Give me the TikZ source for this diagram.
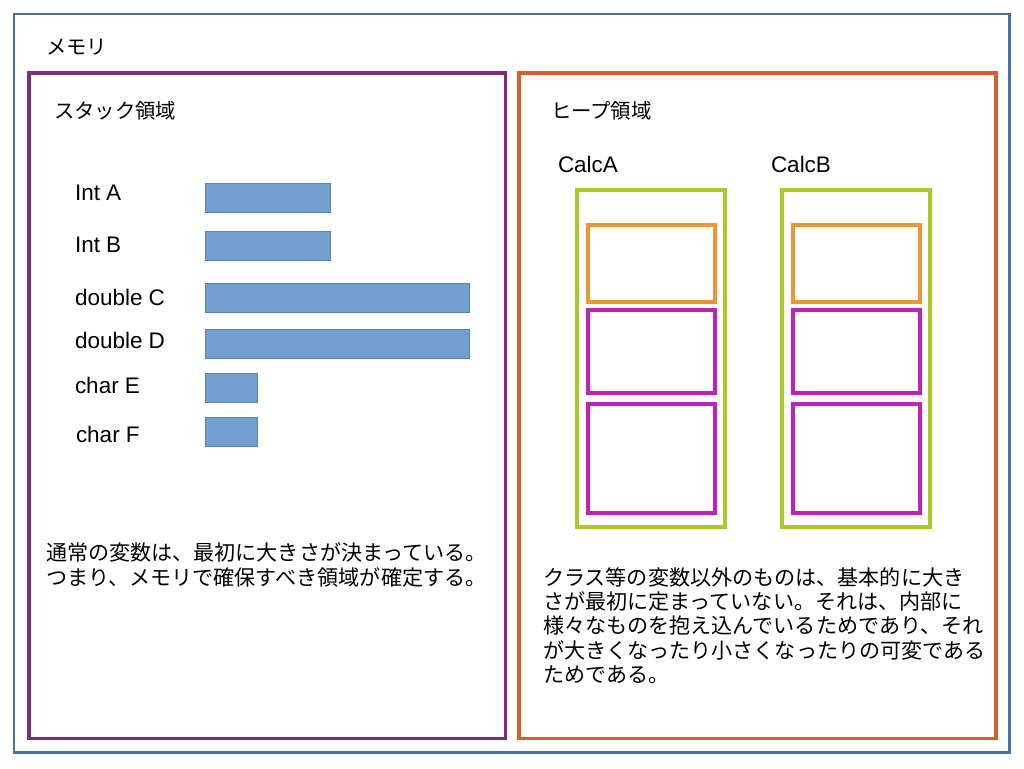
\documentclass[tikz,border=0pt]{standalone}
\usepackage{fontspec}
\setmainfont{Liberation Sans}
\newfontfamily\jpfont{Noto Sans CJK JP}
\definecolor{memblue}{RGB}{70,114,168}
\definecolor{stackpurple}{RGB}{124,46,122}
\definecolor{heaporange}{RGB}{214,96,44}
\definecolor{objgreen}{RGB}{172,200,42}
\definecolor{fieldorange}{RGB}{238,150,52}
\definecolor{fieldmagenta}{RGB}{192,32,190}
\definecolor{barfill}{RGB}{114,159,207}
\definecolor{bardraw}{RGB}{92,130,180}
\begin{document}
\begin{tikzpicture}[
        x=0.02cm, y=-0.02cm,
        every node/.style={anchor=north west, inner sep=0pt, outer sep=0pt},
        area/.style={draw, line width=1.8pt},
        bar/.style={draw=bardraw, fill=barfill, line width=0.4pt,
                    minimum height=0.58cm},
        obj/.style={draw=objgreen, line width=2pt,
                    minimum width=2.96cm, minimum height=6.74cm},
        field/.style={draw, line width=2pt, minimum width=2.54cm},
        label/.style={anchor=west, font=\fontsize{12.8}{14}\selectfont},
        jtitle/.style={anchor=west, font=\jpfont\fontsize{11.6}{14}\selectfont},
        jtext/.style={anchor=north west, align=left},
    ]
    \useasboundingbox (0,0) rectangle (1024,768);

    % --- memory and its two areas ----------------------------------------
    \node[area, draw=memblue, line width=1.6pt,
          minimum width=19.92cm, minimum height=14.78cm] (memory) at (14,14) {};
    \node[area, draw=stackpurple, minimum width=9.54cm,
          minimum height=13.32cm] (stack) at (29,73) {};
    \node[area, draw=heaporange, minimum width=9.54cm,
          minimum height=13.32cm] (heap) at (519,73) {};

    \node[jtitle] (memlabel)   at (46,47)  {メモリ};
    \node[jtitle] (stacklabel) at (54,111) {スタック領域};
    \node[jtitle] (heaplabel)  at (551,111) {ヒープ領域};

    % --- stack variables -------------------------------------------------
    \node[bar, minimum width=2.50cm] (intA)    at (205,183) {};
    \node[bar, minimum width=2.50cm] (intB)    at (205,231) {};
    \node[bar, minimum width=5.28cm] (doubleC) at (205,283) {};
    \node[bar, minimum width=5.28cm] (doubleD) at (205,329) {};
    \node[bar, minimum width=1.04cm] (charE)   at (205,373) {};
    \node[bar, minimum width=1.04cm] (charF)   at (205,417) {};

    \node[label] (intAlabel)    at (75,193) {Int A};
    \node[label] (intBlabel)    at (75,245) {Int B};
    \node[label] (doubleClabel) at (75,297) {double C};
    \node[label] (doubleDlabel) at (75,340) {double D};
    \node[label] (charElabel)   at (75,385) {char E};
    \node[label] (charFlabel)   at (76,434) {char F};

    \node[jtext, font=\jpfont\fontsize{12}{14.2}\selectfont] (stacknote) at (46,543)
        {通常の変数は、最初に大きさが決まっている。\\
         つまり、メモリで確保すべき領域が確定する。};

    % --- heap objects ----------------------------------------------------
    \foreach \name/\x/\lx in {CalcA/577/558, CalcB/782/771} {
        \node[label] (\name label) at (\lx,164) {\name};
        \node[obj] (\name) at (\x,190) {};
        \node[field, draw=fieldorange, minimum height=1.54cm]
            (\name f1) at (\x+11,225) {};
        \node[field, draw=fieldmagenta, minimum height=1.66cm]
            (\name f2) at (\x+11,310) {};
        \node[field, draw=fieldmagenta, minimum height=2.18cm]
            (\name f3) at (\x+11,404) {};
    }

    \node[jtext, font=\jpfont\fontsize{12}{13.7}\selectfont] (heapnote) at (543,568)
        {クラス等の変数以外のものは、基本的に大き\\
         さが最初に定まっていない。それは、内部に\\
         様々なものを抱え込んでいるためであり、それ\\
         が大きくなったり小さくなったりの可変である\\
         ためである。};
\end{tikzpicture}
\end{document}
